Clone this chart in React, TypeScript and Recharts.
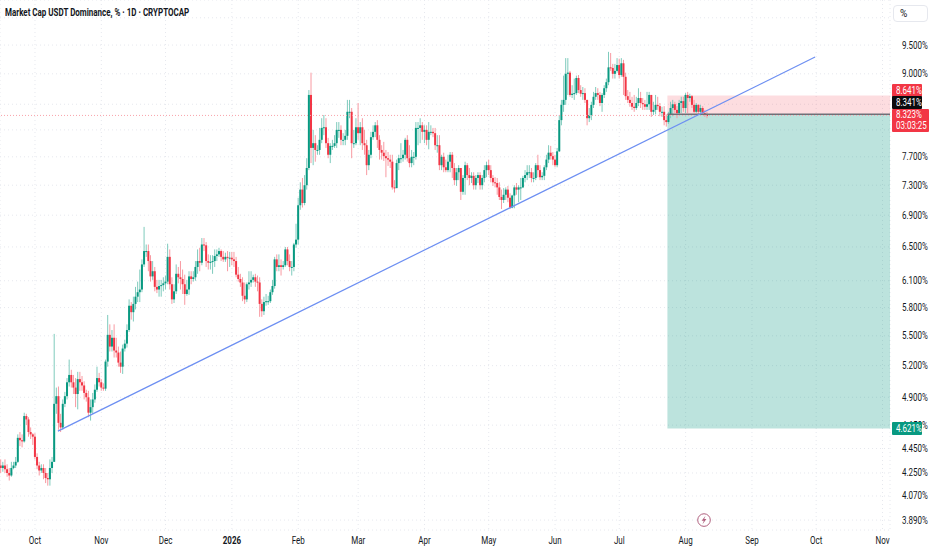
import React from "react";
import { ComposedChart, Bar, XAxis, YAxis, CartesianGrid, ReferenceArea, ReferenceLine, ReferenceDot } from "recharts";

const UP = "#089981";
const DOWN = "#f23645";
const FONT = "Roboto, sans-serif";
const NARROW = 0.8; // the labels in the picture are condensed

// daily candles, first one is 2025-09-15 (day -16, day 0 = 2025-10-01)
const firstDay = -16;
const firstOpen = 4.31;

const closes = [
  4.29,4.31,4.28,4.25,4.23,4.29,4.31,4.34,4.54,4.52,
  4.51,4.73,4.70,4.59,4.57,4.55,4.38,4.31,4.27,4.29,
  4.25,4.21,4.20,4.29,4.34,4.84,4.91,4.67,4.63,4.84,
  4.91,5.04,5.11,5.04,4.99,4.93,5.07,5.04,5.01,4.94,
  4.90,4.76,4.81,4.88,4.97,5.08,5.04,4.99,4.98,5.24,
  5.51,5.39,5.48,5.35,5.33,5.23,5.19,5.37,5.42,5.56,
  5.82,5.75,5.84,5.92,5.97,6.00,6.29,6.45,6.45,6.33,
  6.15,6.21,6.03,6.00,6.04,6.05,6.07,6.09,6.38,6.06,
  5.89,5.98,6.18,6.14,6.12,6.06,5.95,6.00,6.15,6.12,
  6.14,6.26,6.33,6.31,6.53,6.52,6.33,6.31,6.32,6.33,
  6.39,6.41,6.45,6.38,6.35,6.38,6.37,6.37,6.35,6.33,
  6.17,6.12,6.08,5.93,5.89,6.06,6.08,6.11,6.14,6.09,
  6.08,5.84,5.76,5.86,5.87,5.87,5.97,6.04,6.35,6.26,
  6.28,6.26,6.28,6.47,6.33,6.26,6.26,6.53,6.59,7.03,
  7.24,7.06,7.30,7.54,8.65,7.83,7.90,7.80,7.80,7.95,
  8.13,8.14,7.90,7.73,7.86,7.86,7.90,8.10,8.10,7.95,
  7.95,8.01,8.38,8.38,7.90,7.90,8.14,8.05,8.14,7.90,
  7.87,7.58,7.73,7.99,8.07,8.17,7.95,7.80,7.76,7.71,
  7.68,7.66,7.63,7.27,7.26,7.61,7.68,7.68,7.73,7.95,
  7.68,7.61,7.70,7.70,8.13,8.13,8.17,8.07,8.10,7.95,
  8.07,8.07,8.05,7.87,7.87,7.58,7.70,7.55,7.51,7.63,
  7.73,7.54,7.37,7.48,7.54,7.21,7.40,7.58,7.44,7.40,
  7.43,7.30,7.40,7.44,7.30,7.40,7.51,7.58,7.51,7.40,
  7.34,7.33,7.27,7.14,7.10,7.17,7.24,7.13,7.00,7.16,
  7.27,7.24,7.27,7.27,7.40,7.44,7.48,7.48,7.40,7.40,
  7.58,7.51,7.41,7.43,7.55,7.66,7.76,7.71,7.66,7.58,
  7.78,8.25,8.49,8.57,9.00,9.02,8.65,8.67,8.68,8.93,
  8.73,8.67,8.68,8.57,8.28,8.33,8.49,8.62,8.68,8.65,
  8.52,8.65,8.76,8.86,9.11,9.10,9.00,9.05,9.15,8.98,
  9.18,8.95,8.63,8.57,8.52,8.46,8.44,8.52,8.60,8.52,
  8.50,8.46,8.50,8.65,8.38,8.41,8.49,8.47,8.38,8.38,
  8.25,8.22,8.33,8.44,8.50,8.41,8.36,8.52,8.55,8.44,
  8.65,8.60,8.63,8.49,8.38,8.49,8.38,8.44,8.36,8.33,
  8.323,
];

const highs = [
  4.36,4.34,4.36,4.32,4.29,4.34,4.34,4.38,4.57,4.59,
  4.57,4.76,4.75,4.72,4.63,4.58,4.58,4.41,4.34,4.32,
  4.32,4.29,4.25,4.36,4.38,5.52,4.99,5.00,4.75,4.88,
  4.95,5.08,5.26,5.16,5.11,5.08,5.14,5.14,5.10,5.05,
  4.97,4.96,4.88,4.94,5.02,5.19,5.13,5.07,5.03,5.26,
  5.72,5.62,5.56,5.62,5.48,5.39,5.34,5.41,5.46,5.62,
  5.89,5.86,5.92,6.03,6.09,6.23,6.35,6.75,6.53,6.53,
  6.40,6.33,6.26,6.11,6.11,6.11,6.14,6.16,6.54,6.47,
  6.14,6.06,6.29,6.26,6.33,6.23,6.17,6.11,6.21,6.21,
  6.21,6.33,6.47,6.49,6.61,6.61,6.56,6.41,6.40,6.40,
  6.47,6.47,6.49,6.47,6.45,6.43,6.45,6.44,6.44,6.44,
  6.38,6.26,6.18,6.14,6.08,6.08,6.21,6.21,6.17,6.18,
  6.16,6.14,5.89,5.92,5.95,5.93,6.00,6.11,6.38,6.41,
  6.41,6.35,6.33,6.50,6.50,6.41,6.33,6.55,6.79,7.13,
  7.34,7.40,7.44,7.68,8.73,9.02,8.10,8.02,7.87,8.13,
  8.28,8.33,8.28,7.98,7.90,7.95,8.02,8.22,8.22,8.17,
  8.05,8.10,8.57,8.57,8.44,8.10,8.28,8.52,8.22,8.28,
  8.10,7.95,7.80,8.07,8.17,8.22,8.25,8.02,7.87,7.92,
  7.80,7.77,7.73,7.73,7.37,7.66,7.73,7.90,7.80,7.98,
  8.02,7.87,7.80,7.77,8.22,8.22,8.28,8.22,8.17,8.17,
  8.22,8.17,8.13,8.13,8.02,8.02,7.73,7.76,7.66,7.73,
  7.77,7.77,7.61,7.54,7.58,7.51,7.44,7.63,7.61,7.54,
  7.48,7.48,7.44,7.48,7.48,7.44,7.58,7.63,7.66,7.58,
  7.44,7.41,7.40,7.34,7.24,7.26,7.27,7.29,7.19,7.17,
  7.30,7.33,7.30,7.40,7.43,7.51,7.58,7.58,7.54,7.48,
  7.61,7.73,7.58,7.48,7.58,7.73,7.87,7.86,7.77,7.73,
  7.83,8.33,8.57,8.97,9.27,9.27,9.05,8.81,8.92,8.97,
  8.98,8.81,8.78,8.76,8.57,8.44,8.54,8.70,8.78,8.76,
  8.70,8.68,8.81,8.92,9.38,9.36,9.17,9.17,9.27,9.26,
  9.27,9.24,9.02,8.73,8.70,8.62,8.65,8.62,8.76,8.70,
  8.60,8.57,8.70,8.70,8.65,8.54,8.65,8.62,8.52,8.46,
  8.47,8.34,8.38,8.54,8.57,8.54,8.47,8.57,8.62,8.62,
  8.68,8.70,8.67,8.65,8.57,8.52,8.50,8.49,8.47,8.41,
  8.38,
];

const lows = [
  4.25,4.26,4.25,4.22,4.19,4.22,4.28,4.29,4.33,4.47,
  4.46,4.50,4.65,4.55,4.53,4.48,4.36,4.28,4.23,4.25,
  4.20,4.17,4.15,4.15,4.25,4.34,4.75,4.61,4.59,4.61,
  4.81,4.88,5.00,4.99,4.93,4.81,4.79,4.96,4.96,4.88,
  4.86,4.72,4.69,4.75,4.85,4.95,5.00,4.96,4.96,4.96,
  5.19,5.34,5.34,5.28,5.28,5.19,5.13,5.12,5.34,5.38,
  5.54,5.67,5.65,5.78,5.86,5.86,5.97,6.26,6.38,6.21,
  6.09,6.11,5.98,5.96,5.92,5.92,5.98,6.00,6.06,6.00,
  5.84,5.85,5.95,6.07,6.00,5.95,5.83,5.93,5.94,6.06,
  6.09,6.10,6.18,6.21,6.28,6.45,6.26,6.23,6.23,6.18,
  6.26,6.33,6.38,6.33,6.32,6.32,6.21,6.26,6.28,6.26,
  6.14,6.09,6.03,5.87,5.84,5.86,6.00,6.03,6.08,6.03,
  5.98,5.70,5.70,5.72,5.82,5.83,5.85,5.94,6.01,6.21,
  6.21,6.16,6.23,6.26,6.28,6.21,6.16,6.21,6.49,6.53,
  6.97,7.00,7.03,7.24,7.51,7.61,7.58,7.63,7.73,7.73,
  7.90,8.02,7.83,7.68,7.61,7.80,7.83,7.83,7.98,7.87,
  7.87,7.87,7.95,8.28,7.68,7.83,7.87,7.95,7.87,7.80,
  7.73,7.44,7.51,7.68,7.95,7.99,7.83,7.66,7.66,7.64,
  7.41,7.57,7.54,7.24,7.20,7.26,7.51,7.61,7.63,7.66,
  7.63,7.55,7.55,7.58,7.66,7.87,7.90,7.95,7.90,7.87,
  7.81,8.02,7.99,7.80,7.76,7.51,7.51,7.48,7.48,7.48,
  7.48,7.40,7.30,7.29,7.37,7.10,7.17,7.17,7.37,7.30,
  7.33,7.24,7.24,7.33,7.24,7.24,7.34,7.41,7.44,7.34,
  7.29,7.27,7.17,7.10,6.98,7.06,7.10,7.07,6.98,6.99,
  6.99,7.17,7.07,7.10,7.26,7.34,7.37,7.40,7.34,7.34,
  7.37,7.41,7.37,7.37,7.37,7.51,7.61,7.66,7.58,7.55,
  7.55,7.77,8.17,8.38,8.49,8.65,8.62,8.60,8.57,8.65,
  8.68,8.62,8.57,8.52,8.17,8.22,8.25,8.44,8.57,8.57,
  8.47,8.38,8.60,8.70,8.81,9.05,8.92,8.92,9.02,8.92,
  8.95,8.65,8.57,8.52,8.46,8.41,8.38,8.41,8.47,8.44,
  8.41,8.41,8.41,8.41,8.30,8.33,8.34,8.41,8.31,8.30,
  8.17,8.15,8.19,8.28,8.31,8.36,8.28,8.33,8.36,8.38,
  8.36,8.36,8.54,8.44,8.36,8.36,8.33,8.34,8.33,8.30,
  8.28,
];

const priceTicks = [10, 9.5, 9, 8.5, 8.1, 7.7, 7.3, 6.9, 6.5, 6.1, 5.8, 5.5, 5.2, 4.9, 4.65, 4.45, 4.25, 4.07, 3.89];
const hiddenPriceTicks = [10, 8.5, 8.1];
const monthDays = [0, 31, 61, 92, 123, 151, 182, 212, 243, 273, 304, 335, 365, 396];
const monthLabels = ["Oct", "Nov", "Dec", "2026", "Feb", "Mar", "Apr", "May", "Jun", "Jul", "Aug", "Sep", "Oct", "Nov"];

const lastPrice = 8.323;
const stopPrice = 8.641;
const entryPrice = 8.341;
const targetPrice = 4.621;
const positionStartDay = 295.5;
const trendStart = { x: 10.7, y: 4.598 };
const trendEnd = { x: 364.5, y: 9.288 };

const chartData = closes.map((close, i) => ({
  day: firstDay + i,
  open: i === 0 ? firstOpen : closes[i - 1],
  close,
  high: highs[i],
  low: lows[i],
  range: [lows[i], highs[i]],
}));

function Candle(props: any) {
  const { x, y, width, height, payload } = props;
  if (!payload || height == null) return null;
  const { open, close, high, low } = payload;
  const up = close >= open;
  // body ends are placed along the high-low bar, the axis is logarithmic
  const at = (v: number) => y + (height * Math.log(high / v)) / Math.log(high / low);
  const top = at(Math.max(open, close));
  const bottom = at(Math.min(open, close));
  const cx = x + width / 2;
  return (
    <g>
      <rect x={cx - 0.5} y={y} width={1} height={height} fill={up ? "#7fcbbd" : "#f89aa2"} />
      <rect x={cx - 1} y={top} width={2} height={Math.max(bottom - top, 1)} fill={up ? UP : DOWN} />
    </g>
  );
}

function PriceTick(props: any) {
  const { x, y, payload } = props;
  if (hiddenPriceTicks.includes(payload.value)) return null;
  return (
    <text transform={`translate(${x + 6} ${y + 3.5}) scale(${NARROW} 1)`} fontSize={10} fill="#131722" fontFamily={FONT}>
      {payload.value.toFixed(3)}%
    </text>
  );
}

function MonthTick(props: any) {
  const { x, y, payload } = props;
  const label = monthLabels[monthDays.indexOf(payload.value)];
  return (
    <text transform={`translate(${x} ${y + 8}) scale(${NARROW} 1)`} fontSize={10} textAnchor="middle" fill="#131722" fontWeight={label === "2026" ? 700 : 400} fontFamily={FONT}>
      {label}
    </text>
  );
}

function PriceTag({ top, color, text, subText }: { top: number; color: string; text: string; subText?: string }) {
  return (
    <div style={{ position: "absolute", left: 892, top, width: subText ? 37 : 30, height: subText ? 23 : 13, background: color, borderRadius: 1 }}>
      <div style={{ marginLeft: 4, color: "#ffffff", fontFamily: FONT, fontSize: 10, lineHeight: subText ? "11px" : "13px", transform: `scaleX(${NARROW})`, transformOrigin: "left", whiteSpace: "nowrap" }}>
        {text}
        {subText && <br />}
        {subText}
      </div>
    </div>
  );
}

function NewsIcon(props: any) {
  const { cx, cy } = props;
  return (
    <g>
      <circle cx={cx} cy={cy} r={6.3} fill="#ffffff" stroke="#b0607e" strokeWidth={1} />
      <path d={`M${cx + 1.5} ${cy - 4.2} L${cx - 2.4} ${cy + 0.8} L${cx - 0.2} ${cy + 0.8} L${cx - 1.5} ${cy + 4.2} L${cx + 2.4} ${cy - 1} L${cx + 0.2} ${cy - 1} Z`} fill="#b0607e" />
    </g>
  );
}

export default function App() {
  return (
    <div style={{ position: "absolute", left: 0, top: 0, width: 932, height: 550, background: "#ffffff", overflow: "hidden" }}>
      <ComposedChart width={932} height={550} data={chartData} margin={{ top: 0, right: 0, bottom: 0, left: 0 }}>
        <CartesianGrid stroke="#e6e8ee" strokeDasharray="1 3" />
        <XAxis
          dataKey="day"
          type="number"
          domain={[-16.35, 399.5]}
          ticks={monthDays}
          interval={0}
          allowDataOverflow
          height={20}
          axisLine={false}
          tickLine={false}
          tickMargin={0}
          tick={<MonthTick />}
        />
        <YAxis
          orientation="right"
          scale="log"
          type="number"
          domain={[3.818, 10.34]}
          ticks={priceTicks}
          interval={0}
          allowDataOverflow
          width={42}
          axisLine={false}
          tickLine={false}
          tickMargin={0}
          tick={<PriceTick />}
        />
        <Bar dataKey="range" barSize={2} isAnimationActive={false} shape={<Candle />} />
        <ReferenceArea x1={positionStartDay} x2={399.5} y1={entryPrice} y2={stopPrice} fill="#f23645" fillOpacity={0.17} stroke="none" />
        <ReferenceArea x1={positionStartDay} x2={399.5} y1={targetPrice} y2={entryPrice} fill="#089981" fillOpacity={0.27} stroke="none" />
        <ReferenceLine y={lastPrice} stroke="#f9a3aa" strokeDasharray="1 2" strokeWidth={1} />
        <ReferenceLine segment={[{ x: positionStartDay, y: entryPrice }, { x: 399.5, y: entryPrice }]} stroke="#6f7078" strokeWidth={1.5} />
        <ReferenceLine segment={[trendStart, trendEnd]} stroke="#6d8ff2" strokeWidth={1.2} />
        <ReferenceDot x={312.6} y={3.89} r={6} shape={<NewsIcon />} />
      </ComposedChart>
      <div style={{ position: "absolute", left: 5, top: 6, fontFamily: FONT, fontSize: 10.5, fontWeight: 700, color: "#131722", whiteSpace: "nowrap", transform: "scaleX(0.76)", transformOrigin: "left" }}>
        Market Cap USDT Dominance, % · 1D · CRYPTOCAP
      </div>
      <div style={{ position: "absolute", left: 893, top: 5, width: 35, height: 17, boxSizing: "border-box", border: "1px solid #e6e8ee", borderRadius: 4, background: "#ffffff", fontFamily: FONT, fontSize: 10, color: "#131722", lineHeight: "15px", paddingLeft: 6 }}>
        %
      </div>
      <PriceTag top={84} color={DOWN} text="8.641%" />
      <PriceTag top={96} color="#0b0b0e" text="8.341%" />
      <PriceTag top={109} color={DOWN} text="8.323%" subText="03:03:25" />
      <PriceTag top={422} color={UP} text="4.621%" />
    </div>
  );
}
